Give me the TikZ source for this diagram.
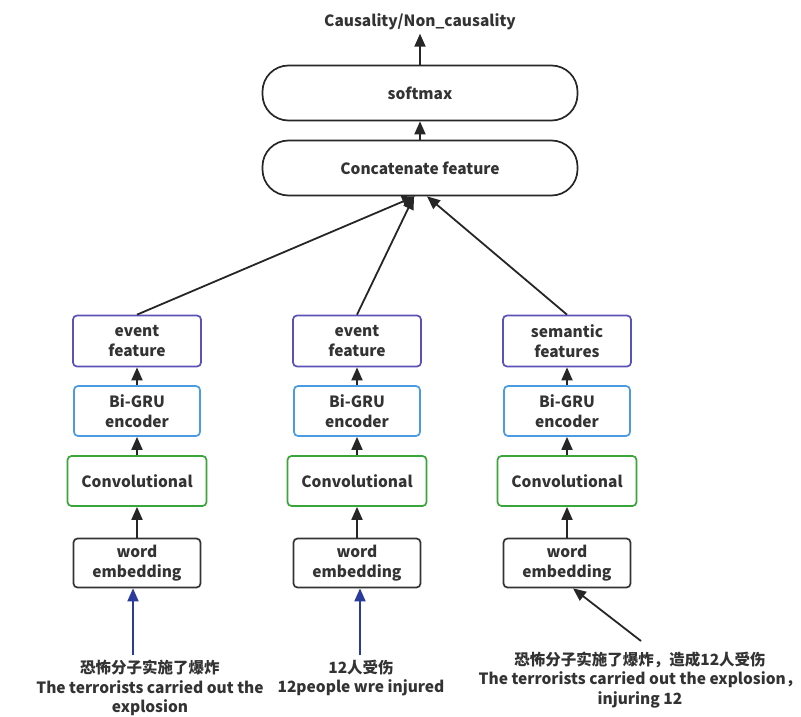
\documentclass[tikz,border=0pt]{standalone}
\usepackage{fontspec}
\setmainfont{Noto Sans CJK SC}
\usetikzlibrary{arrows.meta}
\definecolor{featcol}{HTML}{5A52B8}
\definecolor{grucol}{HTML}{4A9BE2}
\definecolor{convcol}{HTML}{3AA53A}
\definecolor{embcol}{HTML}{333333}
\definecolor{incol}{HTML}{2B3B9C}
\tikzset{
  lbl/.style={font=\bfseries\fontsize{15.5}{19.5}\selectfont, text=black!80, align=center},
  box/.style={lbl, draw, line width=1.7pt, rounded corners=4pt, inner sep=0pt},
  bigbox/.style={box, draw=black!85, rounded corners=26pt, minimum width=315pt, minimum height=55pt},
  featbox/.style={box, draw=featcol, minimum width=128pt, minimum height=51pt},
  grubox/.style={box, draw=grucol, minimum width=126pt, minimum height=50pt},
  convbox/.style={box, draw=convcol, minimum width=139pt, minimum height=50pt},
  embbox/.style={box, draw=embcol, minimum width=127pt, minimum height=49pt},
  arr/.style={line width=1.8pt, draw=black!85, -{Triangle[length=13pt,width=11pt]}},
  inarr/.style={arr, draw=incol}
}

\begin{document}
\begin{tikzpicture}[x=1pt, y=-1pt]
\useasboundingbox (0,0) rectangle (801,717);
% output layers
\node [lbl] (out) at (420,22) {Causality/Non\_causality};
\node [bigbox] (soft) at (420,93) {softmax};
\node [bigbox] (cat) at (420,168) {Concatenate feature};
\draw [arr] (soft.north) -- (out.south);
\draw [arr] (cat.north) -- (soft.south);
% left column
\node [featbox] (feat1) at (137,341) {event\\feature};
\node [grubox] (gru1) at (137,411) {Bi-GRU\\encoder};
\node [convbox] (conv1) at (137,481) {Convolutional};
\node [embbox] (emb1) at (137,563) {word\\embedding};
% middle column
\node [featbox] (feat2) at (357,341) {event\\feature};
\node [grubox] (gru2) at (357,411) {Bi-GRU\\encoder};
\node [convbox] (conv2) at (357,481) {Convolutional};
\node [embbox] (emb2) at (357,563) {word\\embedding};
% right column
\node [featbox] (feat3) at (567,341) {semantic\\features};
\node [grubox] (gru3) at (567,411) {Bi-GRU\\encoder};
\node [convbox] (conv3) at (567,481) {Convolutional};
\node [embbox] (emb3) at (567,563) {word\\embedding};
% inside the columns
\draw [arr] (emb1.north) -- (conv1.south);
\draw [arr] (conv1.north) -- (gru1.south);
\draw [arr] (gru1.north) -- (feat1.south);
\draw [arr] (emb2.north) -- (conv2.south);
\draw [arr] (conv2.north) -- (gru2.south);
\draw [arr] (gru2.north) -- (feat2.south);
\draw [arr] (emb3.north) -- (conv3.south);
\draw [arr] (conv3.north) -- (gru3.south);
\draw [arr] (gru3.north) -- (feat3.south);
% features to concatenation
\draw [arr] (feat1.north) -- ([xshift=-5]cat.south);
\draw [arr] (feat2.north) -- ([xshift=-6]cat.south);
\draw [arr] (feat3.north) -- ([xshift=7]cat.south);
% sentences
\node [lbl] (s1) at (150,688) {恐怖分子实施了爆炸\\The terrorists carried out the\\explosion};
\node [lbl] (s2) at (361,678) {12人受伤\\12people wre injured};
\node [lbl] (s3) at (640,680) {恐怖分子实施了爆炸，造成12人受伤\\The terrorists carried out the explosion，\\injuring 12};
\coordinate (in1) at (133,655);
\coordinate (in2) at (360,655);
\coordinate (in3) at (641,641);
\draw [inarr] (in1) -- (in1 |- emb1.south);
\draw [inarr] (in2) -- (in2 |- emb2.south);
\draw [arr] (in3) -- ([xshift=6]emb3.south);
\end{tikzpicture}
\end{document}
